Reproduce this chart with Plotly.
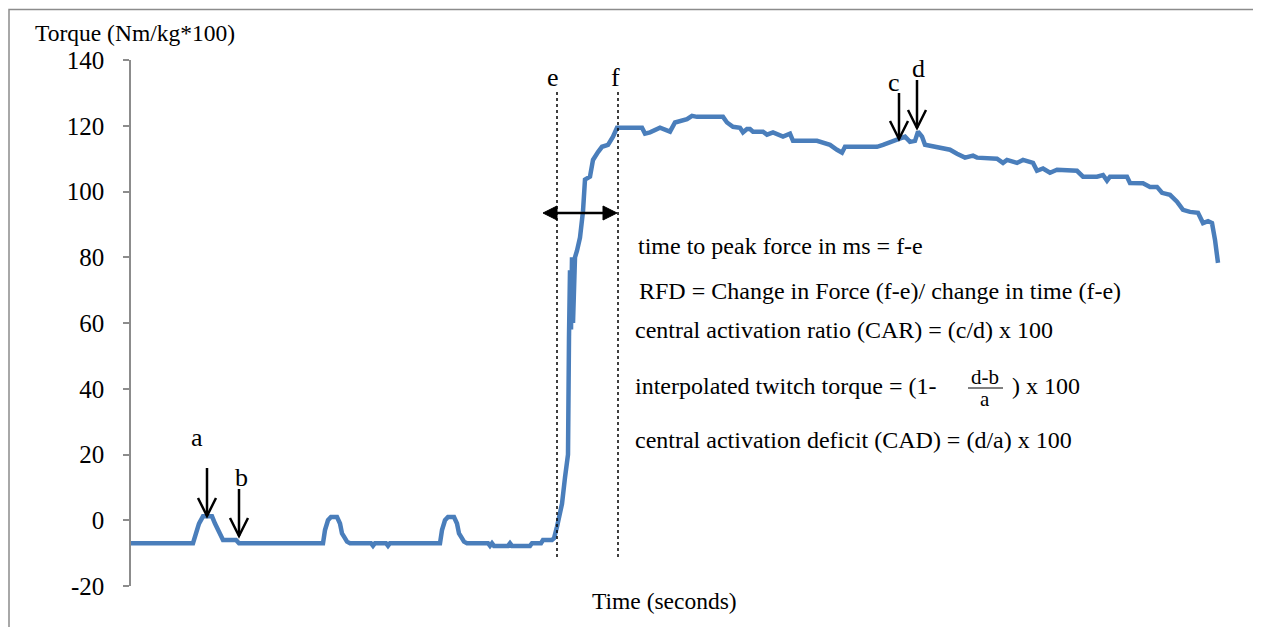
import plotly.graph_objects as go

# ---- data (time in arbitrary units, torque in Nm/kg*100) ----
time_pts = [0, 62, 65, 68, 72, 81, 84, 87, 89, 92, 95, 105, 108, 110,
            192, 194, 197, 200, 206, 209, 211, 213, 216, 219, 240, 242, 244, 255, 257, 259,
            309, 311, 314, 317, 323, 326, 328, 330, 333, 336, 357, 359, 361, 363, 377, 379, 381,
            399, 401, 410, 412, 421, 423, 426, 429, 431, 434, 436, 437, 438, 439, 440, 441, 442,
            444, 446, 449, 452, 454, 459, 462, 467, 471, 477, 482, 486,
            511, 514, 519, 529, 539, 544, 556, 561, 566, 592, 596, 602, 609, 612, 616, 619, 622,
            632, 636, 642, 646, 652, 659, 662, 686, 692, 699, 706, 711, 714, 746, 752, 762, 774,
            779, 784, 787, 791, 794, 806, 819, 826, 834, 842, 846, 866, 872, 876, 886, 892, 902,
            906, 912, 919, 926, 946, 952, 966, 972, 976, 979, 996, 999, 1012, 1019, 1026, 1031,
            1039, 1046, 1052, 1059, 1067, 1072, 1077, 1081, 1084, 1087]
torque = [-7, -7, -4, -1, 1.2, 1.2, -1, -3, -4, -6, -6, -6, -7, -7,
          -7, -3, 0, 1, 1, -1, -4, -5, -6.5, -7, -7, -7.8, -7, -7, -7.8, -7,
          -7, -3, 0, 1, 1, -1, -4, -5, -6.5, -7, -7, -7.8, -7, -7.8, -7.8, -7, -7.8,
          -7.8, -7, -7, -6, -6, -5.5, -2, 3, 5, 13, 17, 20, 56, 76, 58, 80, 60,
          80, 82, 86, 94, 103.6, 104.5, 109.6, 112, 113.6, 114.2, 116.7, 119.4,
          119.4, 117.6, 118, 119.4, 118.2, 121, 122, 123, 122.7, 122.7, 121, 119.7, 119.4,
          118, 119, 119, 118.2, 118.2, 117.3, 118, 117.6, 116.7, 117.6, 115.4, 115.4, 114.8,
          114.2, 112.7, 111.8, 113.6, 113.6, 114.2, 115.4, 116.7, 115.1, 115.4, 118.2, 116.7,
          114.2, 113.6, 112.7, 111.5, 110.3, 110.9, 110.3, 110, 108.7, 109.6, 108.7, 109.6,
          108.7, 106.3, 107, 105.7, 106.6, 106.3, 104.5, 104.5, 105, 103.3, 104.5, 104.5,
          102.6, 102.5, 101.4, 101.4, 99.6, 99, 96.9, 94.4, 93.8, 93.5, 90.4, 91, 90.4, 85.3, 78.3]

y_ticks = [-20, 0, 20, 40, 60, 80, 100, 120, 140]
y_tick_labels = ["-20", "0", "20", "40", "60", "80", "100", "120", "140"]

formula_lines = [
    "time to peak force in ms = f-e",
    "RFD = Change in Force (f-e)/ change in time (f-e)",
    "central activation ratio (CAR) = (c/d) x 100",
    "interpolated twitch torque = (1- ",
    "central activation deficit (CAD) = (d/a) x 100",
]

# ---- layout geometry (reference-window pixels; page body has an 8px margin) ----
OFF = 8
W, H = 1261 - OFF, 627 - OFF
L, R, T, B = 131, 1221, 60, 586
YMIN, YMAX = -20, 140
XMAX = R - L

def dx(px):
    return px - L

def dy(py):
    return YMAX - (py - T) * (YMAX - YMIN) / (B - T)

def px_(px):
    return (px - L) / (R - L)

def py_(py):
    return (B - py) / (B - T)

SERIF = "Liberation Serif, Times New Roman, serif"
BLUE = "#4A7EBB"

fig = go.Figure()
fig.add_trace(go.Scatter(x=time_pts, y=torque, mode="lines",
                         line=dict(color=BLUE, width=4.5), hoverinfo="skip",
                         showlegend=False))

shapes = []
annotations = []

# outer frame
shapes.append(dict(type="rect", xref="paper", yref="paper",
                   x0=px_(9), x1=px_(1290), y0=py_(660), y1=py_(9.5),
                   line=dict(color="#8C8C8C", width=1.5), fillcolor="rgba(0,0,0,0)",
                   layer="below"))

# dotted e / f lines
for xpix in (557, 618):
    shapes.append(dict(type="line", x0=dx(xpix), x1=dx(xpix), y0=dy(92), y1=dy(560),
                       line=dict(color="black", width=1.5, dash="dot")))

# double arrow between e and f
ya = 213
shapes.append(dict(type="line", x0=dx(556), x1=dx(604), y0=dy(ya), y1=dy(ya),
                   line=dict(color="black", width=2.5)))
for tip, base in ((543, 557), (617, 603)):
    path = "M {} {} L {} {} L {} {} Z".format(dx(tip), dy(ya), dx(base), dy(ya - 7), dx(base), dy(ya + 7))
    shapes.append(dict(type="path", path=path, fillcolor="black", line=dict(color="black", width=1)))

# down arrows a, b, c, d
def down_arrow(xp, ytop, ytip):
    shapes.append(dict(type="line", x0=dx(xp), x1=dx(xp), y0=dy(ytop), y1=dy(ytip),
                       line=dict(color="black", width=2.5)))
    path = "M {} {} L {} {} L {} {}".format(dx(xp - 9), dy(ytip - 18), dx(xp), dy(ytip), dx(xp + 9), dy(ytip - 18))
    shapes.append(dict(type="path", path=path, line=dict(color="black", width=2.5)))

down_arrow(207, 468, 516)
down_arrow(239, 489, 536)
down_arrow(899, 93, 139)
down_arrow(917, 80, 128)

def label(text, xp, yp, size=24, xanchor="center"):
    annotations.append(dict(text=text, x=px_(xp), y=py_(yp), xref="paper", yref="paper",
                            showarrow=False, xanchor=xanchor, yanchor="middle",
                            font=dict(family=SERIF, size=size, color="black")))

label("a", 197, 437, size=26)
label("b", 241, 477, size=26)
label("c", 894, 82, size=26)
label("d", 918, 69, size=26)
label("e", 553, 77, size=26)
label("f", 615, 77, size=26)

# formula texts
rows = [(636, 246), (637, 291), (633, 330), (633, 386), (633, 440)]
for txt, (xp, yp) in zip(formula_lines, rows):
    label(txt, xp, yp, size=24, xanchor="left")
label("d-b", 985, 377, size=21)
label("a", 985, 399, size=21)
label(") x 100", 1010, 386, size=24, xanchor="left")
shapes.append(dict(type="line", xref="paper", yref="paper", x0=px_(968), x1=px_(1003),
                   y0=py_(388), y1=py_(388), line=dict(color="black", width=1)))

# axis titles
label("Torque (Nm/kg*100)", 33, 33, size=23.5, xanchor="left")
label("Time (seconds)", 664, 601, size=23.5)

fig.update_layout(
    width=W, height=H,
    margin=dict(l=L - OFF, r=W - (R - OFF), t=T - OFF, b=H - (B - OFF), pad=0),
    paper_bgcolor="white", plot_bgcolor="white",
    shapes=shapes, annotations=annotations,
    xaxis=dict(range=[0, XMAX], showgrid=False, zeroline=False, showline=False,
               showticklabels=False, ticks=""),
    yaxis=dict(range=[YMIN, YMAX], tickvals=y_ticks, ticktext=y_tick_labels,
               showgrid=False, zeroline=False,
               showline=True, linecolor="#8C8C8C", linewidth=1.5,
               ticks="outside", ticklen=6, tickcolor="#8C8C8C", tickwidth=1.5,
               tickfont=dict(family=SERIF, size=25, color="black"), ticklabelstandoff=14),
    showlegend=False,
)

fig.write_html("out.html")
